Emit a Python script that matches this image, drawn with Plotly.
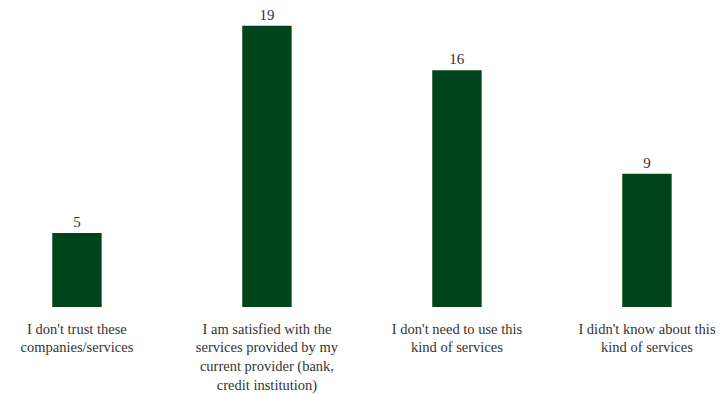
import plotly.graph_objects as go

categories = [
    "I don't trust these<br>companies/services",
    "I am satisfied with the<br>services provided by my<br>current provider (bank,<br>credit institution)",
    "I don't need to use this<br>kind of services",
    "I didn't know about this<br>kind of services",
]
values = [5, 19, 16, 9]

FONT = "Liberation Serif, Times New Roman, serif"

fig = go.Figure(go.Bar(
    x=list(range(len(categories))),
    y=values,
    text=[str(v) for v in values],
    textposition="outside",
    cliponaxis=False,
    marker=dict(color="#00441b", line=dict(width=0)),
    width=0.26,
    textfont=dict(family=FONT, size=15, color="#333333"),
))

fig.update_layout(
    width=726, height=394,
    margin=dict(l=0, r=0, t=11, b=87, autoexpand=False),
    paper_bgcolor="white", plot_bgcolor="white",
    showlegend=False,
    font=dict(family=FONT, size=14.5, color="#333333"),
    xaxis=dict(
        tickmode="array",
        tickvals=list(range(len(categories))),
        ticktext=categories,
        range=[-0.405, 3.416],
        showgrid=False, zeroline=False, showline=False, ticks="",
        tickfont=dict(family=FONT, size=14.5, color="#333333"),
        ticklabelstandoff=11,
        automargin=False,
    ),
    yaxis=dict(range=[0, 20], visible=False, automargin=False),
)

fig.write_html("out.html")
